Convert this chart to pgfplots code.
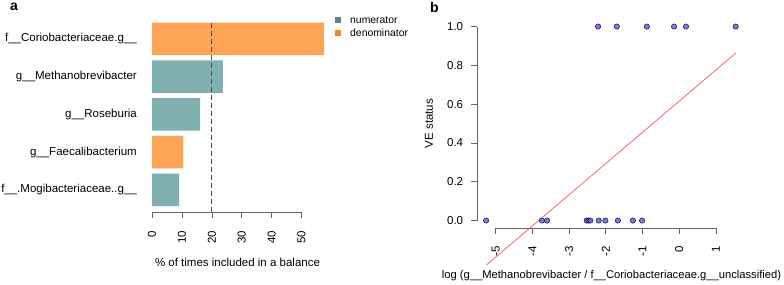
\documentclass[border=0pt]{standalone}
\usepackage{pgfplots}
\pgfplotsset{compat=1.18}
\usepackage{fontspec}
\setmainfont{Liberation Sans}
\definecolor{barteal}{RGB}{127,175,175}
\definecolor{barorange}{RGB}{253,164,85}
\definecolor{legteal}{RGB}{78,138,138}
\definecolor{legorange}{RGB}{246,132,42}
\definecolor{ptblue}{RGB}{95,95,240}
\definecolor{fitred}{RGB}{240,105,105}
\definecolor{axgray}{RGB}{100,100,100}
\pgfplotsset{
  rstyle/.style={
    scale only axis, clip=false,
    axis x line*=bottom, axis y line*=left,
    tick align=outside, major tick length=6pt,
    every tick/.style={draw=axgray, line width=0.6pt},
    /pgf/number format/assume math mode=true,
    tick label style={font=\fontsize{11.5}{13}\selectfont},
    label style={font=\fontsize{11.5}{13}\selectfont},
  }
}
\begin{document}
\begin{tikzpicture}[x=1pt,y=1pt]
\useasboundingbox (0,0) rectangle (784,284);
% ---------------- panel a ----------------
\begin{axis}[rstyle,
  at={(152pt,72pt)}, anchor=south west,
  width=149.5pt, height=189.3pt,
  xmin=0, xmax=50, ymin=0.415, ymax=5.43,
  y axis line style={draw=none},
  x axis line style={draw=axgray, line width=0.6pt},
  ytick style={draw=none},
  xtick={0,10,20,30,40,50},
  ytick={1,2,3,4,5},
  yticklabels={f\_\_.Mogibacteriaceae..g\_\_, g\_\_Faecalibacterium, g\_\_Roseburia, g\_\_Methanobrevibacter, f\_\_Coriobacteriaceae.g\_\_},
  yticklabel style={anchor=east, inner sep=0pt, xshift=-9pt},
  xticklabel style={yshift=-12.7pt, rotate=90, anchor=east, inner sep=0pt},
  xlabel={\% of times included in a balance},
  xlabel style={at={(axis description cs:0.572,0)}, anchor=center, yshift=-50pt},
]
\addplot[xbar, bar width=32.4pt, bar shift=0pt, fill=barteal, draw=none] coordinates {(23.7,4) (16.1,3) (9.1,1)};
\addplot[xbar, bar width=32.4pt, bar shift=0pt, fill=barorange, draw=none] coordinates {(57.6,5) (10.5,2)};
\addplot[no marks, dash pattern=on 5pt off 3pt, draw=black!70, line width=0.7pt] coordinates {(20,0.415) (20,5.43)};
\end{axis}
% legend
\fill[legteal] (335,261) rectangle (341,267);
\fill[legorange] (335,248) rectangle (341,254);
\node[anchor=west, inner sep=0pt, font=\fontsize{10.4}{12}\selectfont] at (350,264) {numerator};
\node[anchor=west, inner sep=0pt, font=\fontsize{10.4}{12}\selectfont] at (350,251) {denominator};
\node[font=\bfseries\fontsize{14}{16}\selectfont, inner sep=0pt] at (14,277) {a};
% ---------------- panel b ----------------
\begin{axis}[rstyle,
  at={(477.3pt,55.7pt)}, anchor=south west,
  width=268.3pt, height=209.5pt,
  xmin=-5.5, xmax=1.81, ymin=-0.04, ymax=1.04,
  axis line style={draw=none},
  xtick={-5,-4,-3,-2,-1,0,1},
  ytick={0,0.2,0.4,0.6,0.8,1},
  yticklabel style={anchor=east, inner sep=0pt, xshift=-8pt, /pgf/number format/.cd, fixed, fixed zerofill, precision=1},
  xticklabel style={yshift=-12pt, rotate=90, anchor=east, inner sep=0pt},
  xlabel={log (g\_\_Methanobrevibacter / f\_\_Coriobacteriaceae.g\_\_unclassified)},
  xlabel style={at={(axis description cs:0.5,0)}, anchor=center, yshift=-47.7pt, font=\fontsize{11.2}{13}\selectfont},
  ylabel={VE status},
  ylabel style={at={(axis description cs:-0.18,0.5)}, anchor=center},
]
\draw[axgray, line width=0.6pt] (axis cs:-5,-0.04) -- (axis cs:1,-0.04);
\draw[axgray, line width=0.6pt] (axis cs:-5.5,0) -- (axis cs:-5.5,1);
\addplot[only marks, mark=*, mark size=2.7pt, mark options={draw=none, fill=ptblue, fill opacity=0.85}] coordinates {
  (-2.21,1) (-1.70,1) (-0.88,1) (-0.14,1) (0.185,1) (1.54,1)
  (-5.26,0) (-3.74,0) (-3.60,0) (-2.52,0) (-2.47,0) (-2.42,0) (-2.19,0) (-2.01,0) (-1.67,0) (-1.26,0) (-1.01,0)
};
\addplot[no marks, draw=fitred, line width=0.8pt] coordinates {(-5.245,-0.228) (1.54,0.863)};
\end{axis}
\node[font=\bfseries\fontsize{14}{16}\selectfont, inner sep=0pt] at (434.5,277) {b};
\end{tikzpicture}
\end{document}
